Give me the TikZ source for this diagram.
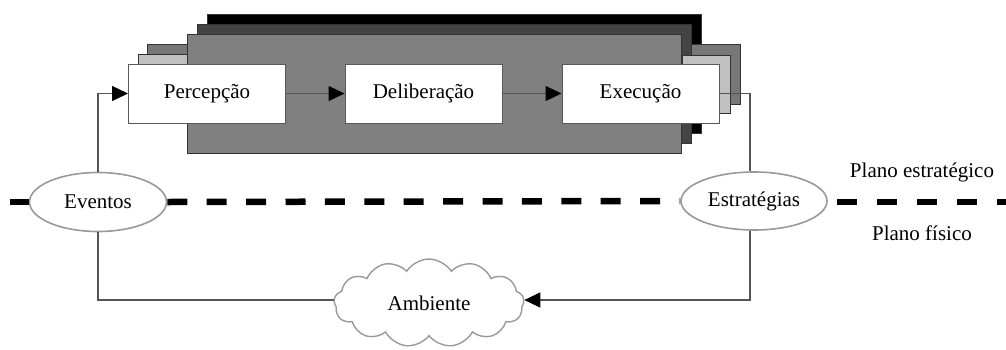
\documentclass[tikz,border=0pt]{standalone}
\usepackage{fontspec}
\setmainfont{Liberation Serif}
\usetikzlibrary{arrows.meta,shapes.geometric,shapes.symbols}
\definecolor{layerdark}{HTML}{444444}
\definecolor{layermid}{HTML}{808080}
\definecolor{layergray}{HTML}{777777}
\definecolor{layerlight}{HTML}{C0C0C0}
\definecolor{wire}{HTML}{555555}
\definecolor{rim}{HTML}{999999}
\tikzset{
  txt/.style={font=\fontsize{21}{25}\selectfont},
  layer/.style={draw=black!80, line width=1pt},
  stagebox/.style={txt, draw=black!65, line width=1pt, fill=white,
    minimum width=157pt, minimum height=59pt, inner sep=0pt},
  oval/.style={txt, ellipse, draw=rim, line width=1.6pt, fill=white, inner sep=0pt},
  wireline/.style={draw=wire, line width=1.3pt},
  tip/.style={-{Triangle[length=16pt,width=15pt,black]}},
  planeline/.style={line width=6.5pt, black},
}
\begin{document}
\begin{tikzpicture}[x=1pt,y=-1pt]
\useasboundingbox (0,0) rectangle (1006,349);

% left-hand stacked sheets, behind the main panel
\filldraw[layer, fill=layergray]  (147,44) rectangle (200,100);
\filldraw[layer, fill=layerlight] (138,54) rectangle (200,110);

% main panel stack
\filldraw[layer, fill=black]      (207,14) rectangle (701,133);
\filldraw[layer, fill=layerdark]  (197,24) rectangle (691,143);
\filldraw[layer, fill=layermid]   (187,34) rectangle (681,153);

% right-hand stacked sheets
\filldraw[layer, fill=layergray]  (691,44) rectangle (740,104);
\filldraw[layer, fill=layerlight] (682,55) rectangle (730,113);

% stages
\node[stagebox] (perc) at (207,93.5) {Percepção};
\node[stagebox] (delib) at (423.5,93.5) {Deliberação};
\node[stagebox] (exec) at (640.5,93.5) {Execução};

% ovals on the plane boundary
\node[oval, minimum width=137pt, minimum height=59pt] (ev) at (98,202) {Eventos};
\node[oval, minimum width=146pt, minimum height=58pt] (estr) at (754,201) {Estratégias};

% environment
\node[txt, cloud, cloud puffs=13, cloud puff arc=115, aspect=2.15, draw=rim,
  line width=1.4pt, fill=white, minimum width=190pt, minimum height=88pt,
  inner sep=0pt] (amb) at (429,303) {Ambiente};

% boundary between the two planes
\coordinate (dl) at (10,202);
\coordinate (dr0) at (837,202);
\coordinate (dr1) at (1006,202);
\draw[planeline, dash pattern=on 20pt off 19.4pt] (dl) -- (ev.west);
\draw[planeline, dash pattern=on 20pt off 19.4pt] (ev.east) -- (estr.west);
\draw[planeline, dash pattern=on 20pt off 20pt] (dr0) -- (dr1);

\node[txt] (pe) at (922,172) {Plano estratégico};
\node[txt] (pf) at (922,233) {Plano físico};

% connectors
\coordinate (tr) at (750,93.5);
\coordinate (br) at (750,300);
\draw[wireline, tip] (perc) -- (delib);
\draw[wireline, tip] (delib) -- (exec);
\draw[wireline, tip] (ev.north) |- (perc.west);
\draw[wireline] (exec.east) -- (tr) -- (tr |- estr.north);
\draw[wireline, tip] (tr |- estr.south) -- (br) -- (br -| amb.east);
\draw[wireline] (ev.south) |- (br -| amb.west);
\end{tikzpicture}
\end{document}
